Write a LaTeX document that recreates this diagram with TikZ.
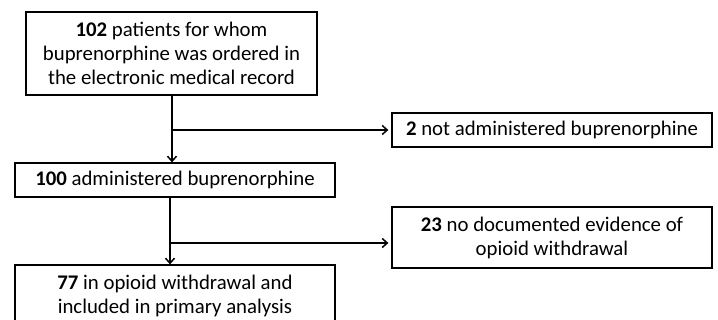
\documentclass[tikz,border=0pt]{standalone}
\usepackage{fontspec}
\setmainfont{Carlito}
\usetikzlibrary{arrows.meta}
\begin{document}
\begin{tikzpicture}[x=1pt,y=-1pt,
  box/.style={draw=black, line width=1.3pt, rectangle, inner sep=0pt, align=center,
    font=\fontsize{20.8}{24}\selectfont},
  conn/.style={line width=1.5pt, -{Straight Barb[length=5pt,width=9pt,line width=1.5pt]}}]
\useasboundingbox (0,0) rectangle (718,320);
\clip (0,0) rectangle (718,320);
\node[box, minimum width=291pt, minimum height=83pt] (b1) at (171.5,53.5)
  {\textbf{102} patients for whom\\buprenorphine was ordered in\\the electronic medical record};
\node[box, minimum width=320pt, minimum height=34pt] (b2) at (175,180)
  {\textbf{100} administered buprenorphine};
\node[box, minimum width=320pt, minimum height=61pt] (b3) at (175,295.5)
  {\textbf{77} in opioid withdrawal and\\included in primary analysis};
\node[box, minimum width=320pt, minimum height=34pt] (e1) at (552,130)
  {\textbf{2} not administered buprenorphine};
\node[box, minimum width=320pt, minimum height=61pt] (e2) at (552,237.5)
  {\textbf{23} no documented evidence of\\opioid withdrawal};
\coordinate (j1) at (172,130);
\coordinate (j2) at (170,243);
\draw[conn] (b1.south -| j1) -- (j1 |- b2.north);
\draw[conn, shorten >=3pt] (j1) -- (j1 -| e1.west);
\draw[conn] (j2 |- b2.south) -- (j2 |- b3.north);
\draw[conn, shorten >=3pt] (j2) -- (j2 -| e2.west);
\end{tikzpicture}
\end{document}
